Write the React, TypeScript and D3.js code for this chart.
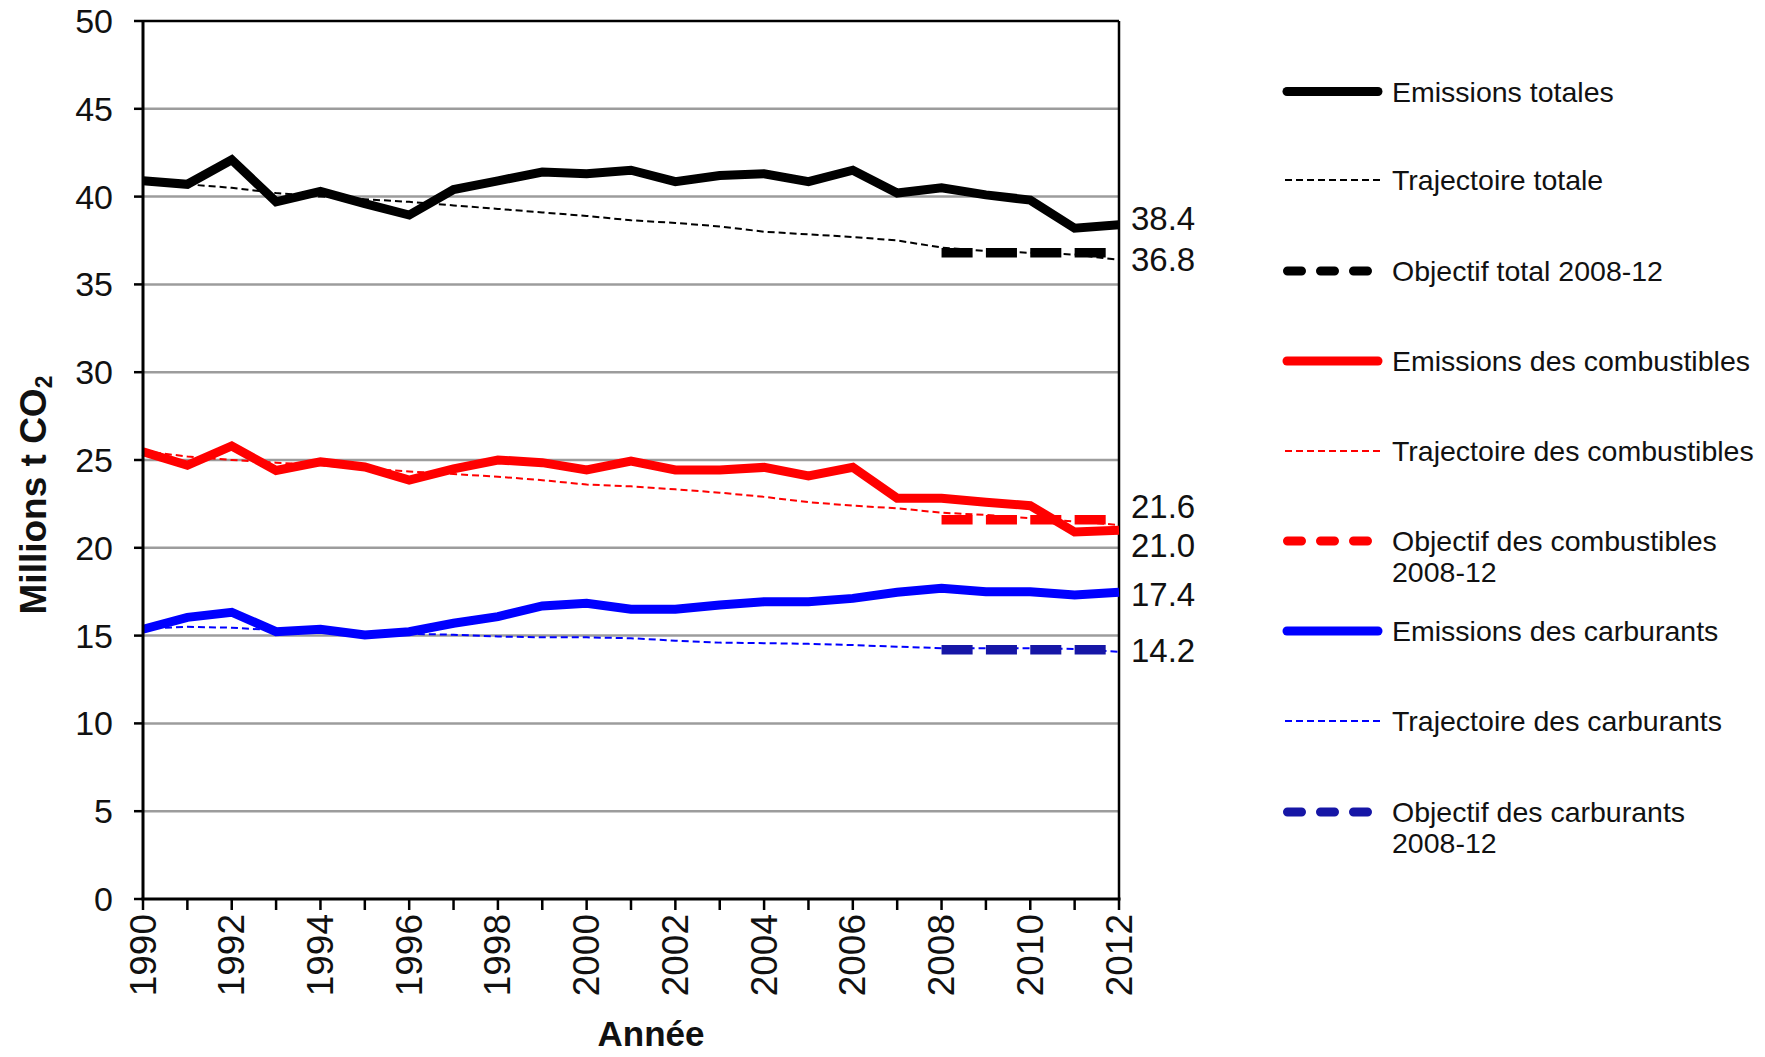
import React from "react";
import * as d3 from "d3";

const years = d3.range(1990, 2013);
const yTicks = [0, 5, 10, 15, 20, 25, 30, 35, 40, 45, 50];
const xTickLabels = [1990, 1992, 1994, 1996, 1998, 2000, 2002, 2004, 2006, 2008, 2010, 2012];

const emissionsTotales = [40.9, 40.7, 42.1, 39.7, 40.3, 39.6, 38.95, 40.4, 40.9, 41.4, 41.3, 41.5, 40.85, 41.2, 41.3, 40.85, 41.5, 40.2, 40.5, 40.1, 39.8, 38.2, 38.4];
const trajectoireTotale = [41.0, 40.7, 40.5, 40.2, 40.0, 39.85, 39.7, 39.5, 39.3, 39.1, 38.9, 38.65, 38.5, 38.3, 38.0, 37.85, 37.7, 37.5, 37.1, 36.9, 36.8, 36.7, 36.4];
const emissionsCombustibles = [25.47, 24.7, 25.8, 24.4, 24.9, 24.6, 23.86, 24.5, 25.0, 24.85, 24.43, 24.94, 24.43, 24.43, 24.58, 24.09, 24.58, 22.82, 22.82, 22.59, 22.4, 20.9, 21.0];
const trajectoireCombustibles = [25.5, 25.2, 25.0, 24.85, 24.7, 24.5, 24.35, 24.2, 24.05, 23.85, 23.6, 23.5, 23.33, 23.14, 22.9, 22.6, 22.4, 22.25, 22.0, 21.87, 21.68, 21.5, 21.3];
const emissionsCarburants = [15.36, 16.04, 16.33, 15.22, 15.36, 15.03, 15.22, 15.7, 16.08, 16.69, 16.84, 16.5, 16.5, 16.74, 16.93, 16.93, 17.12, 17.47, 17.69, 17.5, 17.5, 17.31, 17.47];
const trajectoireCarburants = [15.4, 15.5, 15.45, 15.3, 15.2, 15.1, 15.1, 15.05, 14.95, 14.9, 14.9, 14.85, 14.71, 14.6, 14.57, 14.53, 14.46, 14.37, 14.28, 14.28, 14.28, 14.24, 14.08];
const objectifYears = [2008, 2009, 2010, 2011, 2012];
const objectifTotal = [36.8, 36.8, 36.8, 36.8, 36.8];
const objectifCombustibles = [21.6, 21.6, 21.6, 21.6, 21.6];
const objectifCarburants = [14.2, 14.2, 14.2, 14.2, 14.2];

const endLabels = ["38.4", "36.8", "21.6", "21.0", "17.4", "14.2"];
const endLabelValues = [38.4, 36.8, 21.6, 21.0, 17.4, 14.2];
const endLabelShift = [-6, 7, -13, 15, 1, 1];

const legendLabels = [
  ["Emissions totales"],
  ["Trajectoire totale"],
  ["Objectif total 2008-12"],
  ["Emissions des combustibles"],
  ["Trajectoire des combustibles"],
  ["Objectif des combustibles", "2008-12"],
  ["Emissions des carburants"],
  ["Trajectoire des carburants"],
  ["Objectif des carburants", "2008-12"],
];
const legendKinds = ["solid", "thin", "thick", "solid", "thin", "thick", "solid", "thin", "thick"];
const legendColors = ["#000", "#000", "#000", "#ff0000", "#ff0000", "#ff0000", "#0000ff", "#0000ff", "#1616a6"];

const FONT = "'Liberation Sans', Arial, sans-serif";

export default function App() {
  const W = 1765, H = 1057;
  const x = d3.scaleLinear().domain([1990, 2012]).range([143, 1119]);
  const y = d3.scaleLinear().domain([0, 50]).range([899, 21]);
  const step = x(1991) - x(1990);
  const line = d3.line<number>().x((_, i) => x(years[i])).y((v) => y(v));
  const objLine = d3.line<number>().x((_, i) => x(objectifYears[i])).y((v) => y(v));

  const thick = 9;
  const thin = 2;
  const thinDash = "7,4";
  const objDash = `${step * 0.7},${step * 0.3}`;

  const legendRowsY = [91.5, 180, 271, 361, 451, 541, 631, 721, 812];

  const objPath = (vals: number[], col: string) => (
    <path d={objLine(vals) || ""} fill="none" stroke={col} strokeWidth={thick + 0.5} strokeDasharray={objDash} strokeLinecap="butt" />
  );

  return (
    <svg width={W} height={H} style={{ display: "block", position: "absolute", left: 0, top: 0, background: "#fff" }} fontFamily={FONT}>
      {yTicks.filter((t) => t > 0 && t < 50).map((t) => (
        <line key={"g" + t} x1={x(1990)} x2={x(2012)} y1={y(t)} y2={y(t)} stroke="#9c9c9c" strokeWidth={2.5} />
      ))}
      <line x1={x(1990)} x2={x(2012)} y1={y(50)} y2={y(50)} stroke="#000" strokeWidth={2.5} />
      <line x1={x(2012)} x2={x(2012)} y1={y(50)} y2={y(0)} stroke="#000" strokeWidth={2.5} />

      <path d={line(emissionsTotales) || ""} fill="none" stroke="#000" strokeWidth={thick} />
      <path d={line(trajectoireTotale) || ""} fill="none" stroke="#000" strokeWidth={thin} strokeDasharray={thinDash} />
      {objPath(objectifTotal, "#000")}

      <path d={line(emissionsCombustibles) || ""} fill="none" stroke="#ff0000" strokeWidth={thick} />
      <path d={line(trajectoireCombustibles) || ""} fill="none" stroke="#ff0000" strokeWidth={thin} strokeDasharray={thinDash} />
      {objPath(objectifCombustibles, "#ff0000")}

      <path d={line(emissionsCarburants) || ""} fill="none" stroke="#0000ff" strokeWidth={thick} />
      <path d={line(trajectoireCarburants) || ""} fill="none" stroke="#0000ff" strokeWidth={thin} strokeDasharray={thinDash} />
      {objPath(objectifCarburants, "#1616a6")}

      <line x1={x(1990)} x2={x(1990)} y1={y(50) - 1} y2={y(0) + 1} stroke="#000" strokeWidth={3} />
      <line x1={x(1990) - 1.5} x2={x(2012) + 1.5} y1={y(0)} y2={y(0)} stroke="#000" strokeWidth={3} />
      {yTicks.map((t) => (
        <g key={"yt" + t}>
          <line x1={x(1990) - 9} x2={x(1990)} y1={y(t)} y2={y(t)} stroke="#000" strokeWidth={2.5} />
          <text x={113} y={y(t)} textAnchor="end" dominantBaseline="central" fontSize={34} fill="#111">{t}</text>
        </g>
      ))}
      {years.map((yr) => (
        <line key={"xt" + yr} x1={x(yr)} x2={x(yr)} y1={y(0)} y2={y(0) + 11} stroke="#000" strokeWidth={2.5} />
      ))}
      {xTickLabels.map((yr) => (
        <text key={"xl" + yr} transform={`translate(${x(yr)},${914}) rotate(-90)`} textAnchor="end" dominantBaseline="central" fontSize={37} fill="#111">{yr}</text>
      ))}
      <text x={651} y={1046} textAnchor="middle" fontSize={35} fontWeight="bold" fill="#111">Année</text>
      <text transform={`translate(46,495) rotate(-90)`} textAnchor="middle" fontSize={37} fontWeight="bold" fill="#111">
        Millions t CO<tspan fontSize={23} dy={6}>2</tspan>
      </text>
      {endLabels.map((lab, i) => (
        <text key={"el" + i} x={1131} y={y(endLabelValues[i]) + endLabelShift[i]} dominantBaseline="central" fontSize={33} fill="#111">{lab}</text>
      ))}
      {legendLabels.map((lines, i) => {
        const ly = legendRowsY[i];
        const kind = legendKinds[i];
        const col = legendColors[i];
        let sample;
        if (kind === "solid") {
          sample = <line x1={1287} x2={1378} y1={ly} y2={ly} stroke={col} strokeWidth={thick} strokeLinecap="round" />;
        } else if (kind === "thin") {
          sample = <line x1={1285} x2={1381} y1={ly} y2={ly} stroke={col} strokeWidth={thin} strokeDasharray="7,4" />;
        } else {
          sample = <line x1={1287.5} x2={1370} y1={ly} y2={ly} stroke={col} strokeWidth={thick} strokeDasharray="14,19" strokeLinecap="round" />;
        }
        return (
          <g key={"lg" + i}>
            {sample}
            {lines.map((t, j) => (
              <text key={j} x={1392} y={ly + j * 30.5} dominantBaseline="central" fontSize={28.5} fill="#111">{t}</text>
            ))}
          </g>
        );
      })}
    </svg>
  );
}
